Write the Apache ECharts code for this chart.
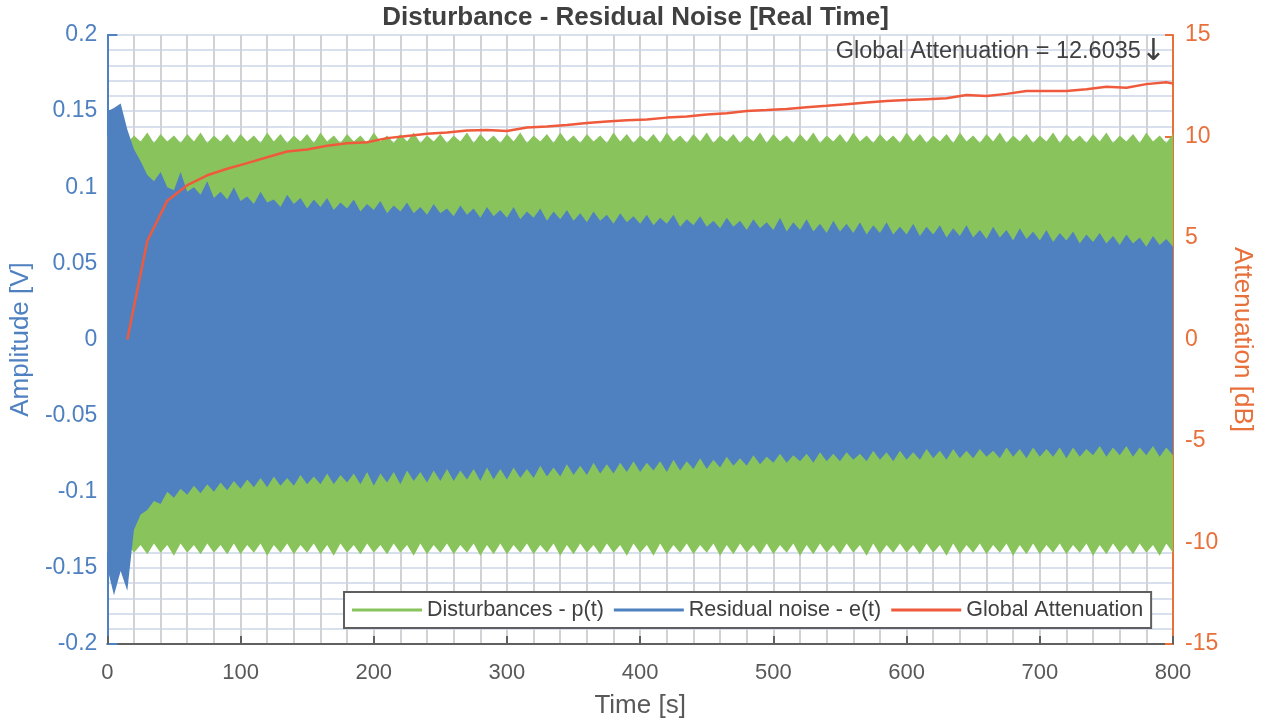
<!DOCTYPE html>
<html>
<head>
<meta charset="utf-8">
<script src="https://cdn.jsdelivr.net/npm/echarts@6/dist/echarts.min.js"></script>
<style>
html,body{margin:0;padding:0;background:#fff;}
#chart{width:1271px;height:724px;}
</style>
</head>
<body>
<div id="chart"></div>
<script>
// ---- Data ----
const TITLE = 'Disturbance - Residual Noise [Real Time]';
const SERIES_NAMES = ['Disturbances - p(t)', 'Residual noise - e(t)', 'Global Attenuation'];
const X_LABEL = 'Time [s]';
const Y_LEFT_LABEL = 'Amplitude [V]';
const Y_RIGHT_LABEL = 'Attenuation [dB]';
const ANNOTATION_TEXT = 'Global Attenuation = 12.6035';
const ANNOTATION_ARROW = '\u2193';

const SAMPLE_STEP = 5; // seconds between envelope samples (0 .. 800)

// Disturbance p(t) envelope (upper / lower), every 5 s
const greenUpper = [
0.134,0.130,0.135,0.129,0.134,0.130,0.136,0.129,0.135,0.130,0.134,0.129,0.135,0.130,0.136,0.129,0.134,0.130,0.135,0.129,
0.135,0.130,0.134,0.129,0.136,0.130,0.135,0.129,0.134,0.130,0.135,0.129,0.136,0.130,0.134,0.129,0.135,0.130,0.134,0.129,
0.136,0.130,0.134,0.129,0.135,0.130,0.136,0.129,0.134,0.130,0.135,0.129,0.134,0.130,0.136,0.129,0.135,0.130,0.134,0.129,
0.135,0.130,0.136,0.129,0.134,0.130,0.135,0.129,0.136,0.130,0.134,0.129,0.135,0.130,0.134,0.129,0.136,0.130,0.135,0.129,
0.134,0.130,0.135,0.129,0.136,0.130,0.134,0.129,0.135,0.130,0.136,0.129,0.134,0.130,0.135,0.129,0.134,0.130,0.136,0.129,
0.135,0.130,0.134,0.129,0.135,0.130,0.136,0.129,0.134,0.130,0.135,0.129,0.136,0.130,0.134,0.129,0.135,0.130,0.134,0.129,
0.136,0.130,0.135,0.129,0.134,0.130,0.135,0.129,0.136,0.130,0.134,0.129,0.135,0.130,0.136,0.129,0.134,0.130,0.135,0.129,
0.134,0.130,0.136,0.129,0.135,0.130,0.134,0.129,0.135,0.130,0.136,0.129,0.134,0.130,0.135,0.129,0.136,0.130,0.134,0.129,
0.135];
const greenLower = [
-0.140,-0.135,-0.141,-0.134,-0.140,-0.135,-0.141,-0.134,-0.140,-0.135,-0.142,-0.134,-0.140,-0.135,-0.141,-0.134,-0.140,-0.135,-0.141,-0.134,
-0.141,-0.135,-0.140,-0.134,-0.142,-0.135,-0.140,-0.134,-0.141,-0.135,-0.140,-0.134,-0.141,-0.135,-0.142,-0.134,-0.140,-0.135,-0.141,-0.134,
-0.140,-0.135,-0.141,-0.134,-0.140,-0.135,-0.142,-0.134,-0.141,-0.135,-0.140,-0.134,-0.141,-0.135,-0.140,-0.134,-0.142,-0.135,-0.141,-0.134,
-0.141,-0.135,-0.140,-0.134,-0.141,-0.135,-0.140,-0.134,-0.142,-0.135,-0.141,-0.134,-0.140,-0.135,-0.141,-0.134,-0.140,-0.135,-0.142,-0.134,
-0.140,-0.135,-0.142,-0.134,-0.141,-0.135,-0.140,-0.134,-0.141,-0.135,-0.140,-0.134,-0.142,-0.135,-0.141,-0.134,-0.140,-0.135,-0.141,-0.134,
-0.141,-0.135,-0.140,-0.134,-0.142,-0.135,-0.141,-0.134,-0.140,-0.135,-0.141,-0.134,-0.140,-0.135,-0.142,-0.134,-0.141,-0.135,-0.140,-0.134,
-0.140,-0.135,-0.141,-0.134,-0.140,-0.135,-0.142,-0.134,-0.141,-0.135,-0.140,-0.134,-0.141,-0.135,-0.140,-0.134,-0.142,-0.135,-0.141,-0.134,
-0.141,-0.135,-0.140,-0.134,-0.141,-0.135,-0.140,-0.134,-0.142,-0.135,-0.141,-0.134,-0.140,-0.135,-0.141,-0.134,-0.140,-0.135,-0.142,-0.134,
-0.140];

// Residual noise e(t) envelope (upper / lower), every 5 s
const blueUpper = [
0.150,0.152,0.155,0.138,0.125,0.117,0.108,0.104,0.110,0.100,0.098,0.110,0.097,0.100,0.095,0.104,0.093,0.097,0.092,0.100,
0.091,0.094,0.089,0.097,0.090,0.092,0.087,0.095,0.089,0.093,0.086,0.092,0.087,0.093,0.085,0.090,0.086,0.092,0.084,0.089,
0.085,0.091,0.083,0.088,0.084,0.090,0.083,0.087,0.082,0.089,0.083,0.086,0.081,0.088,0.082,0.086,0.080,0.087,0.081,0.085,
0.080,0.087,0.079,0.084,0.080,0.086,0.078,0.084,0.079,0.085,0.078,0.083,0.077,0.084,0.078,0.082,0.076,0.083,0.077,0.081,
0.076,0.082,0.075,0.080,0.076,0.082,0.074,0.079,0.075,0.081,0.074,0.078,0.073,0.080,0.074,0.078,0.072,0.079,0.073,0.077,
0.072,0.080,0.071,0.077,0.072,0.079,0.071,0.076,0.070,0.078,0.071,0.076,0.070,0.077,0.069,0.075,0.070,0.077,0.069,0.074,
0.069,0.076,0.068,0.074,0.069,0.075,0.067,0.073,0.068,0.075,0.067,0.072,0.066,0.074,0.067,0.072,0.065,0.073,0.066,0.071,
0.065,0.072,0.064,0.070,0.065,0.071,0.063,0.069,0.064,0.070,0.063,0.068,0.062,0.069,0.063,0.067,0.061,0.068,0.062,0.066,
0.061];
const blueLower = [
-0.150,-0.168,-0.152,-0.165,-0.125,-0.115,-0.112,-0.106,-0.108,-0.100,-0.104,-0.098,-0.102,-0.096,-0.101,-0.095,-0.100,-0.094,-0.099,-0.093,
-0.098,-0.092,-0.097,-0.091,-0.097,-0.090,-0.096,-0.091,-0.096,-0.089,-0.095,-0.090,-0.095,-0.088,-0.095,-0.089,-0.094,-0.088,-0.095,-0.087,
-0.096,-0.088,-0.094,-0.087,-0.095,-0.086,-0.093,-0.087,-0.094,-0.086,-0.093,-0.085,-0.093,-0.086,-0.092,-0.085,-0.093,-0.084,-0.092,-0.085,
-0.092,-0.084,-0.091,-0.085,-0.091,-0.083,-0.090,-0.084,-0.090,-0.082,-0.089,-0.083,-0.089,-0.081,-0.088,-0.082,-0.088,-0.081,-0.087,-0.080,
-0.087,-0.081,-0.086,-0.080,-0.087,-0.079,-0.086,-0.080,-0.085,-0.078,-0.085,-0.079,-0.084,-0.077,-0.083,-0.078,-0.083,-0.076,-0.082,-0.077,
-0.081,-0.075,-0.081,-0.076,-0.080,-0.075,-0.081,-0.074,-0.080,-0.075,-0.080,-0.074,-0.079,-0.075,-0.080,-0.073,-0.079,-0.074,-0.080,-0.073,
-0.079,-0.074,-0.079,-0.072,-0.078,-0.073,-0.079,-0.072,-0.078,-0.073,-0.078,-0.072,-0.077,-0.073,-0.078,-0.071,-0.077,-0.072,-0.078,-0.071,
-0.077,-0.072,-0.077,-0.071,-0.078,-0.071,-0.077,-0.072,-0.076,-0.070,-0.077,-0.071,-0.076,-0.070,-0.077,-0.071,-0.076,-0.070,-0.077,-0.071,
-0.076];

// Global attenuation (dB)
const attTime = [15,30,45,60,75,90,105,120,135,150,165,180,195,210,225,240,255,270,285,300,
  315,330,345,360,375,390,405,420,435,450,465,480,495,510,525,540,555,570,585,600,
  615,630,645,660,675,690,705,720,735,750,765,780,795,800];
const attValue = [0,4.85,6.84,7.6,8.09,8.41,8.69,8.98,9.26,9.36,9.54,9.67,9.72,9.92,10.03,10.13,10.2,10.3,10.32,10.27,
  10.44,10.49,10.57,10.66,10.74,10.8,10.84,10.93,10.99,11.08,11.15,11.26,11.3,11.36,11.44,11.51,11.59,11.67,11.75,11.8,
  11.84,11.88,12.04,11.99,12.1,12.24,12.24,12.24,12.33,12.45,12.4,12.58,12.67,12.6035];

// ---- Chart ----
const TIME = blueUpper.map((_, i) => i * SAMPLE_STEP);
const FONT = 'Liberation Sans, Arial, sans-serif';
const GREEN = '#88c45b', BLUE = '#4f81c1', RED = '#ef5a3d', ORANGE = '#e8703a', GRAY = '#595959';

function band(name, color, lower, upper) {
  return {
    type: 'custom', name, coordinateSystem: 'cartesian2d', xAxisIndex: 0, yAxisIndex: 0,
    itemStyle: { color }, silent: true, animation: false,
    data: TIME.map((t, i) => [t, lower[i], upper[i]]),
    encode: { x: 0, y: [1, 2] },
    renderItem: function (params, api) {
      if (params.dataIndex !== 0) return null;
      const pts = [];
      for (let i = 0; i < TIME.length; i++) pts.push(api.coord([TIME[i], upper[i]]));
      for (let i = TIME.length - 1; i >= 0; i--) pts.push(api.coord([TIME[i], lower[i]]));
      return { type: 'polygon', shape: { points: pts }, style: { fill: color } };
    }
  };
}

const chart = echarts.init(document.getElementById('chart'), null, { renderer: 'canvas' });
chart.setOption({
  animation: false,
  backgroundColor: '#ffffff',
  textStyle: { fontFamily: FONT },
  title: {
    text: TITLE, left: 'center', top: 0,
    textStyle: { fontFamily: FONT, fontSize: 26, fontWeight: 'bold', color: '#404040' }
  },
  grid: { left: 107, right: 98, top: 35, bottom: 77, containLabel: false },
  legend: {
    left: 344, top: 592, orient: 'horizontal',
    icon: 'rect', itemWidth: 70, itemHeight: 3, itemGap: 10,
    padding: [7, 8, 7, 8], borderColor: '#5f5f5f', borderWidth: 2, backgroundColor: '#ffffff',
    textStyle: { fontFamily: FONT, fontSize: 21.5, color: '#404040' },
    data: [
      { name: SERIES_NAMES[0], itemStyle: { color: GREEN } },
      { name: SERIES_NAMES[1], itemStyle: { color: BLUE } },
      { name: SERIES_NAMES[2], itemStyle: { color: RED } }
    ]
  },
  xAxis: {
    type: 'value', min: 0, max: 800, interval: 100,
    name: X_LABEL, nameLocation: 'middle', nameGap: 49,
    nameTextStyle: { fontFamily: FONT, fontSize: 26, color: GRAY },
    axisLine: { show: true, onZero: false, lineStyle: { color: '#606060', width: 2 } },
    axisTick: { show: true, inside: true, length: 8, lineStyle: { color: '#606060', width: 2 } },
    axisLabel: { fontFamily: FONT, fontSize: 22, color: GRAY, margin: 18 },
    splitLine: { show: true, lineStyle: { color: '#d2d2d6', width: 2 } },
    minorTick: { show: false, splitNumber: 5 },
    minorSplitLine: { show: true, lineStyle: { color: '#d2d2d6', width: 2 } }
  },
  yAxis: [
    {
      type: 'value', min: -0.2, max: 0.2, interval: 0.05, position: 'left',
      name: Y_LEFT_LABEL, nameLocation: 'middle', nameGap: 72,
      nameTextStyle: { fontFamily: FONT, fontSize: 26, color: BLUE },
      axisLine: { show: true, onZero: false, lineStyle: { color: BLUE, width: 2 } },
      axisTick: { show: true, inside: true, length: 10, lineStyle: { color: BLUE, width: 2 } },
      axisLabel: { fontFamily: FONT, fontSize: 23, color: BLUE, margin: 10 },
      splitLine: { show: true, lineStyle: { color: '#d7e0ec', width: 2 } },
      minorTick: { show: false, splitNumber: 5 },
      minorSplitLine: { show: true, lineStyle: { color: '#d7e0ec', width: 2 } }
    },
    {
      type: 'value', min: -15, max: 15, interval: 5, position: 'right',
      name: Y_RIGHT_LABEL, nameLocation: 'middle', nameGap: 52, nameRotate: -90,
      nameTextStyle: { fontFamily: FONT, fontSize: 26, color: ORANGE },
      axisLine: { show: true, onZero: false, lineStyle: { color: ORANGE, width: 2 } },
      axisTick: { show: true, inside: true, length: 8, lineStyle: { color: ORANGE, width: 2 } },
      axisLabel: { fontFamily: FONT, fontSize: 23, color: ORANGE, margin: 12 },
      splitLine: { show: false }
    }
  ],
  graphic: [
    {
      type: 'text', right: 1271 - 1166, top: 37, z: 100,
      style: {
        text: '{t|' + ANNOTATION_TEXT + '}{a|' + ANNOTATION_ARROW + '}',
        rich: {
          t: { fontFamily: FONT, fontSize: 23.5, fill: '#404040', color: '#404040' },
          a: { fontFamily: 'DejaVu Sans', fontSize: 30, fill: '#404040', color: '#404040' }
        }
      }
    }
  ],
  series: [
    band(SERIES_NAMES[0], GREEN, greenLower, greenUpper),
    band(SERIES_NAMES[1], BLUE, blueLower, blueUpper),
    {
      type: 'line', name: SERIES_NAMES[2], yAxisIndex: 1, z: 5,
      data: attTime.map((t, i) => [t, attValue[i]]),
      showSymbol: false, symbol: 'none',
      lineStyle: { color: RED, width: 2.5 }, itemStyle: { color: RED }
    }
  ]
});
</script>
</body>
</html>
